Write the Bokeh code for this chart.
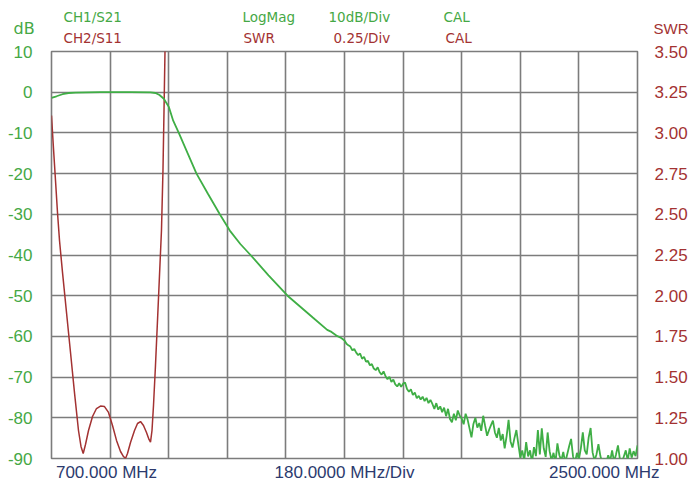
from bokeh.plotting import figure
from bokeh.layouts import column
from bokeh.models import Range1d, LinearAxis, FixedTicker, PrintfTickFormatter
from bokeh.core.properties import value
from bokeh.embed import file_html
from bokeh.resources import INLINE

# ---------------- data ----------------
# CH1 / S21 (LogMag, dB) - smooth part of the sweep
s21_freq_a = [700, 715.4, 733.8, 752.2, 773.7, 850.5, 942.7, 1004.1, 1019.5, 1031.7,
              1045, 1060.3, 1073.8, 1091, 1117, 1145.4, 1180, 1217, 1247.7, 1280,
              1311.3, 1366.6, 1425, 1501.7, 1546.9, 1560, 1575, 1590]
s21_db_a = [-1.4, -1.0, -0.5, -0.2, -0.1, 0.0, 0.0, -0.05, -0.2, -0.7,
            -1.6, -3.6, -7.0, -10.0, -14.8, -20.0, -24.9, -30.0, -34.0, -37.3,
            -40.0, -45.0, -50.0, -55.3, -58.4, -58.9, -59.8, -60.4]

# CH1 / S21 - noisy stop-band part (sweep points every 6 MHz from 1600 to 2500 MHz)
s21_freq_b = list(range(1600, 2501, 6))
s21_db_b = [
    -61.0, -61.8, -62.2, -62.5, -63.4, -63.1, -64.0, -64.6, -64.2, -65.5,
    -65.0, -66.2, -66.0, -67.1, -66.8, -67.9, -68.3, -67.6, -68.8, -69.4,
    -68.6, -69.8, -70.5, -69.9, -71.2, -70.6, -71.8, -72.3, -71.5, -72.4,
    -71.6, -71.3, -72.9, -73.6, -73.0, -74.4, -73.8, -75.2, -74.6, -75.5,
    -74.8, -75.9, -75.1, -76.4, -75.6, -76.6, -77.8, -76.4, -78.0, -77.2,
    -78.6, -77.5, -79.6, -77.8, -80.3, -81.1, -79.0, -80.6, -78.2, -79.5,
    -80.2, -81.6, -79.0, -80.4, -82.6, -84.8, -81.5, -80.0, -82.4, -81.3,
    -83.2, -79.5, -82.0, -84.4, -83.0, -81.8, -80.7, -83.6, -84.9, -82.5,
    -85.6, -84.0, -87.5, -84.5, -80.5, -85.8, -87.3, -85.0, -83.0, -86.5,
    -89.8, -88.0, -90.5, -86.0, -89.5, -88.0, -91.0, -87.2, -89.4, -83.0,
    -89.0, -82.6, -87.5, -89.6, -83.6, -88.2, -90.5, -88.6, -91.0, -86.3,
    -89.2, -90.5, -88.4, -91.0, -89.0, -87.0, -85.2, -89.5, -91.0, -88.6,
    -90.2, -87.5, -83.6, -88.0, -89.0, -84.8, -82.5, -88.5, -90.5, -89.0,
    -86.5, -89.4, -91.0, -90.0, -91.0, -89.2, -90.6, -88.0, -90.8, -89.0,
    -86.8, -90.2, -91.0, -89.5, -88.0, -90.5, -87.5, -89.8, -88.2, -89.4,
    -86.8]

s21_freq = s21_freq_a + s21_freq_b
s21_db = s21_db_a + s21_db_b

# CH2 / S11 (SWR)
s11_freq = [700, 706.1, 712.3, 718.4, 724.6, 733.8, 746.1, 758.4, 770.6, 782.9,
            790.6, 797.4, 804.4, 813.7, 826, 838.2, 850.5, 862.8, 875.1, 887.4,
            899.7, 912, 921.2, 927.3, 933.4, 942.7, 955, 964.2, 973.4, 982.6,
            991.8, 999.5, 1004.1, 1008.7, 1013.3, 1019.4, 1025.6, 1031.7, 1037.8, 1042.4,
            1045.6, 1048.6, 1051.7]
s11_swr = [3.107, 2.904, 2.708, 2.511, 2.339, 2.143, 1.897, 1.651, 1.405, 1.172,
           1.074, 1.031, 1.086, 1.172, 1.258, 1.307, 1.322, 1.319, 1.283, 1.203,
           1.111, 1.043, 1.012, 1.000, 1.031, 1.098, 1.172, 1.215, 1.227, 1.203,
           1.160, 1.117, 1.100, 1.172, 1.326, 1.571, 1.848, 2.124, 2.400, 2.769,
           3.138, 3.50, 3.90]

# grid / tick values
x_ticks = [700, 880, 1060, 1240, 1420, 1600, 1780, 1960, 2140, 2320, 2500]
db_ticks = [10, 0, -10, -20, -30, -40, -50, -60, -70, -80, -90]
swr_ticks = [1.00, 1.25, 1.50, 1.75, 2.00, 2.25, 2.50, 2.75, 3.00, 3.25, 3.50]

# footer (bottom axis) labels and their positions (MHz)
foot_pos = [869, 1600, 2398]
foot_text = ["700.000 MHz", "180.0000 MHz/Div", "2500.000 MHz"]

# header texts
hdr_green_text = ["CH1/S21", "LogMag", "10dB/Div", "CAL"]
hdr_red_text = ["CH2/S11", "SWR", "0.25/Div", "CAL"]

GREEN = "#3fae45"
GREEN_TXT = "#45a845"
RED = "#a33232"
NAVY = "#2c3a6e"
GRID = "#7c7c7c"

W = 698
HH = 51          # header height (px) - reaches the top of the grid
OVL = 10         # main plot overlaps the header by this much (its transparent top border)
BOT = 28         # main plot bottom border (px)

# ---------------- header figure ----------------
hdr = figure(width=W, height=HH, output_backend="svg", toolbar_location=None, title=None,
             x_axis_type=None, y_axis_type=None,
             x_range=Range1d(0, W), y_range=Range1d(HH, 0),
             min_border=0, min_border_left=0, min_border_right=0,
             min_border_top=0, min_border_bottom=0,
             margin=(0, 0, -OVL, 0))
hdr.frame_align = False
hdr.grid.visible = False
hdr.outline_line_color = None
hdr.background_fill_color = "white"
hdr.border_fill_color = "white"

hdr.text(x=[63, 242, 328, 443], y=[16.7] * 4, text=hdr_green_text,
         text_color=GREEN_TXT, text_font=value("DejaVu Sans"), text_font_size=value("13.5px"),
         text_baseline="middle", text_align="left")
hdr.text(x=[63, 243, 333, 445], y=[37] * 4, text=hdr_red_text,
         text_color=RED, text_font=value("DejaVu Sans"), text_font_size=value("13.5px"),
         text_baseline="middle", text_align="left")
hdr.text(x=[13], y=[27.5], text=["dB"], text_color=GREEN_TXT, text_font=value("DejaVu Sans"),
         text_font_size=value("16px"), text_baseline="middle", text_align="left")
hdr.text(x=[653], y=[28], text=["SWR"], text_color=RED, text_font=value("Liberation Sans"),
         text_font_size=value("15px"), text_baseline="middle", text_align="left")

# ---------------- main figure ----------------
p = figure(width=W, height=OVL + 407 + BOT, output_backend="svg", toolbar_location=None, title=None,
           x_range=Range1d(700, 2500), y_range=Range1d(-90, 10),
           min_border_left=51, min_border_right=61, min_border_top=OVL, min_border_bottom=BOT)
p.frame_align = False
p.extra_y_ranges = {"swr": Range1d(1.0, 3.5)}
p.background_fill_color = "white"
p.border_fill_color = "white"
p.border_fill_alpha = 0.0
p.outline_line_color = GRID
p.outline_line_width = 1.6

xa = p.xaxis[0]
xa.ticker = FixedTicker(ticks=foot_pos)
xa.major_label_overrides = {k: t for k, t in zip(foot_pos, foot_text)}
xa.axis_line_color = None
xa.major_tick_line_color = None
xa.minor_tick_line_color = None
xa.major_tick_out = 0
xa.major_tick_in = 0
xa.major_label_standoff = 4
xa.major_label_text_color = NAVY
xa.major_label_text_font = "Liberation Sans"
xa.major_label_text_font_size = "17px"

p.xgrid.ticker = FixedTicker(ticks=x_ticks)
p.ygrid.ticker = FixedTicker(ticks=db_ticks)
for g in (p.xgrid, p.ygrid):
    g.grid_line_color = GRID
    g.grid_line_width = 1.6
    g.grid_line_alpha = 1.0

ya = p.yaxis[0]
ya.ticker = FixedTicker(ticks=db_ticks)
ya.major_label_overrides = {t: str(t) for t in db_ticks}
ya.axis_line_color = None
ya.major_tick_line_color = None
ya.minor_tick_line_color = None
ya.major_tick_out = 0
ya.major_tick_in = 0
ya.major_label_standoff = 19
ya.major_label_text_color = GREEN_TXT
ya.major_label_text_font = "Liberation Sans"
ya.major_label_text_font_size = "17px"

ra = LinearAxis(y_range_name="swr", ticker=FixedTicker(ticks=swr_ticks),
                formatter=PrintfTickFormatter(format="%.2f"))
ra.axis_line_color = None
ra.major_tick_line_color = None
ra.minor_tick_line_color = None
ra.major_tick_out = 0
ra.major_tick_in = 0
ra.major_label_standoff = 17
ra.major_label_text_color = RED
ra.major_label_text_font = "Liberation Sans"
ra.major_label_text_font_size = "17px"
p.add_layout(ra, "right")

# traces
p.line(s11_freq, s11_swr, y_range_name="swr", line_color=RED, line_width=1.5)
p.line(s21_freq, s21_db, line_color=GREEN, line_width=1.8)

layout = column(hdr, p, spacing=0)
open("out.html", "w").write(file_html(layout, INLINE))
